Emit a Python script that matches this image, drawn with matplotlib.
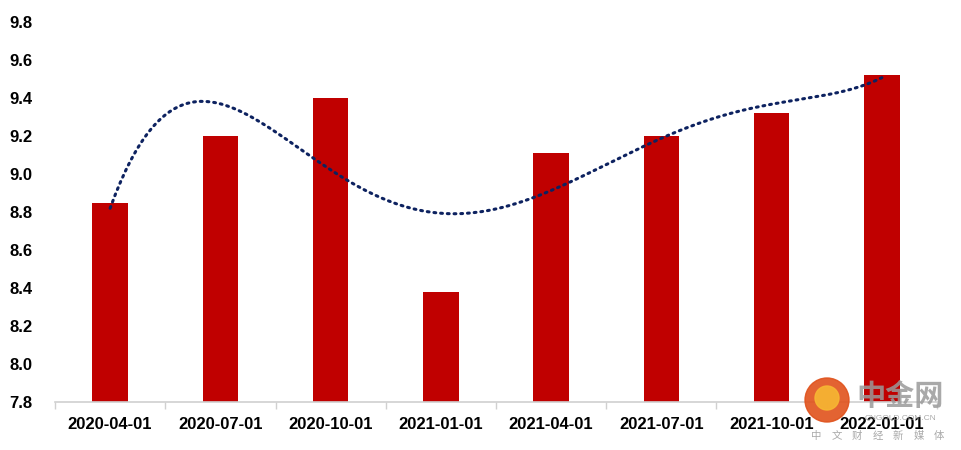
import numpy as np
import matplotlib.pyplot as plt
from matplotlib.patches import Circle

plt.rcParams['font.family'] = ['Liberation Sans', 'Noto Sans CJK SC']

dates = ['2020-04-01', '2020-07-01', '2020-10-01', '2021-01-01',
         '2021-04-01', '2021-07-01', '2021-10-01', '2022-01-01']
values = [8.85, 9.20, 9.40, 8.38, 9.11, 9.20, 9.32, 9.52]
y_ticks = [7.8, 8.0, 8.2, 8.4, 8.6, 8.8, 9.0, 9.2, 9.4, 9.6, 9.8]
wm_chars = ['中', '文', '财', '经', '新', '媒', '体']

x = np.arange(len(dates))

fig = plt.figure(figsize=(9.61, 4.5), dpi=100)
ax = fig.add_axes([55 / 961, (450 - 402) / 450, (937 - 55) / 961, 380 / 450])

ax.bar(x, values, width=0.32, color='#c00000', zorder=2)

# polynomial trendline (order 5), like the spreadsheet one
coef = np.polyfit(x, values, 5)
xs = np.linspace(0, len(dates) - 1, 300)
ax.plot(xs, np.polyval(coef, xs), color='#0d2260', lw=2.2,
        linestyle=(0, (0.6, 1.6)), dash_capstyle='round', zorder=3)

ax.set_xlim(-0.5, len(dates) - 0.5)
ax.set_ylim(7.8, 9.8)
ax.set_yticks(y_ticks)
ax.set_yticklabels([f'{v:.1f}' for v in y_ticks], fontsize=12, fontweight='bold')
ax.set_xticks(x)
ax.set_xticklabels(dates, fontsize=12, fontweight='bold')
ax.set_xticks(np.arange(len(dates) + 1) - 0.5, minor=True)
ax.tick_params(axis='x', which='major', length=0, pad=11)
ax.tick_params(axis='x', which='minor', length=5, color='#d0d0d0', width=1)
ax.tick_params(axis='y', length=0, pad=16)

for s in ['top', 'right', 'left']:
    ax.spines[s].set_visible(False)
ax.spines['bottom'].set_color('#d0d0d0')
ax.spines['bottom'].set_linewidth(1.2)

# watermark
wm = fig.add_axes([0, 0, 1, 1], facecolor='none')
wm.set_xlim(0, 961)
wm.set_ylim(450, 0)
wm.axis('off')
wm.add_patch(Circle((827, 400), 22, color='#e0521c', alpha=0.9))
wm.add_patch(Circle((827, 398), 12, color='#f7b733', alpha=0.9))
wm.text(900, 396, '中金网', fontsize=21, fontweight='bold', color='#9a9a9a',
        ha='center', va='center', family=['Noto Sans CJK SC'], alpha=0.85)
wm.text(900, 419, 'CNGOLD.COM.CN', fontsize=6, color='#9a9a9a',
        ha='center', va='center', alpha=0.85)
for i, ch in enumerate(wm_chars):
    wm.text(816 + i * 20.5, 436, ch, fontsize=7.5, color='#9a9a9a',
            ha='center', va='center', family=['Noto Sans CJK SC'], alpha=0.85)

fig.savefig('out.png', dpi=100)
